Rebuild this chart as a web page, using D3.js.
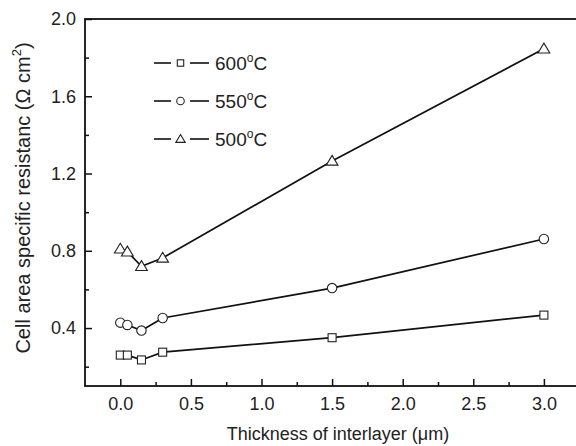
<!DOCTYPE html>
<html lang="en">
<head>
<meta charset="UTF-8">
<title>Cell area specific resistance</title>
<style>
  body { margin: 0; background: #fff; }
  text { font-family: "Liberation Sans", Arial, sans-serif; fill: #222; }
</style>
</head>
<body>
<script src="https://d3js.org/d3.v7.min.js"></script>
<script>
// data
var thickness = [0, 0.05, 0.15, 0.3, 1.5, 3.0];
var r600 = [0.26, 0.26, 0.235, 0.275, 0.35, 0.467];
var r550 = [0.428, 0.416, 0.387, 0.452, 0.607, 0.861];
var r500 = [0.81, 0.795, 0.72, 0.763, 1.265, 1.846];
var seriesNames = ['600', '550', '500'];
var xTicks = [0, 0.5, 1.0, 1.5, 2.0, 2.5, 3.0];
var xMinorTicks = [0.25, 0.75, 1.25, 1.75, 2.25, 2.75];
var yTicks = [0.4, 0.8, 1.2, 1.6, 2.0];
var yMinorTicks = [0.2, 0.6, 1.0, 1.4, 1.8];

var W = 576, H = 446;
var margin = {top: 19, left: 85, bottom: 60};

var xScale = d3.scaleLinear().domain([-0.25, 3.25]).range([margin.left, margin.left + 3.5 * 141.2]);
var yScale = d3.scaleLinear().domain([0.1, 2.0]).range([H - margin.bottom, margin.top]);

var svg = d3.select('body').append('svg')
    .attr('width', W)
    .attr('height', H);

var series = [
    {name: seriesNames[0], vals: r600, shape: 'square'},
    {name: seriesNames[1], vals: r550, shape: 'circle'},
    {name: seriesNames[2], vals: r500, shape: 'triangle'}
];

function marker(g, shape, x, y, s) {
    if (shape == 'square') {
        g.append('rect').attr('x', x - 4 * s).attr('y', y - 4 * s)
            .attr('width', 8 * s).attr('height', 8 * s);
    } else if (shape == 'circle') {
        g.append('circle').attr('cx', x).attr('cy', y).attr('r', 4.7 * s);
    } else {
        var h = 5.6 * s;
        g.append('path').attr('d', `M${x},${y - h}L${x + h * 1.05},${y + h * 0.75}L${x - h * 1.05},${y + h * 0.75}Z`);
    }
}

// axes
svg.append('g')
    .attr('transform', `translate(0, ${yScale(0.1)})`)
    .call(d3.axisBottom(xScale).tickValues(xTicks).tickSizeInner(-7).tickSizeOuter(0).tickPadding(11).tickFormat(d3.format('.1f')));
svg.append('g')
    .attr('transform', `translate(0, ${yScale(0.1)})`)
    .call(d3.axisBottom(xScale).tickValues(xMinorTicks).tickSizeInner(-4).tickSizeOuter(0).tickFormat(''));

svg.append('g')
    .attr('transform', `translate(${xScale(-0.25)}, 0)`)
    .call(d3.axisLeft(yScale).tickValues(yTicks).tickSizeInner(-7).tickSizeOuter(0).tickPadding(9).tickFormat(d3.format('.1f')));
svg.append('g')
    .attr('transform', `translate(${xScale(-0.25)}, 0)`)
    .call(d3.axisLeft(yScale).tickValues(yMinorTicks).tickSizeInner(-4).tickSizeOuter(0).tickFormat(''));

svg.selectAll('.domain').remove();
svg.selectAll('.tick line').attr('stroke', '#111').attr('stroke-width', 1.5);
svg.selectAll('.tick text').style('font-size', '18px').attr('fill', '#333');

// frame
svg.append('rect')
    .attr('x', xScale(-0.25))
    .attr('y', yScale(2.0))
    .attr('width', xScale(3.25) - xScale(-0.25))
    .attr('height', yScale(0.1) - yScale(2.0))
    .attr('fill', 'none')
    .attr('stroke', '#111')
    .attr('stroke-width', 1.8);

// lines and markers
var line = d3.line().x((d, i) => xScale(thickness[i])).y(d => yScale(d));

series.forEach(function(s) {
    svg.append('path')
        .datum(s.vals)
        .attr('d', line)
        .attr('fill', 'none')
        .attr('stroke', '#111')
        .attr('stroke-width', 1.7);
    var g = svg.append('g').attr('fill', '#fff').attr('stroke', '#222').attr('stroke-width', 1.1);
    s.vals.forEach(function(v, i) {
        marker(g, s.shape, xScale(thickness[i]), yScale(v), 1);
    });
});

// legend
var legY = [63, 101, 139];
series.forEach(function(s, i) {
    var lg = svg.append('g').attr('transform', `translate(154, ${legY[i]})`);
    lg.append('line').attr('x1', 0).attr('x2', 17).attr('y1', 0).attr('y2', 0).attr('stroke', '#111').attr('stroke-width', 1.6);
    lg.append('line').attr('x1', 36).attr('x2', 55).attr('y1', 0).attr('y2', 0).attr('stroke', '#111').attr('stroke-width', 1.6);
    var mg = lg.append('g').attr('fill', '#fff').attr('stroke', '#222').attr('stroke-width', 1.1);
    marker(mg, s.shape, 26.5, 0, 0.8);
    var t = lg.append('text').attr('x', 61).attr('y', 7).style('font-size', '19px');
    t.append('tspan').text(s.name);
    t.append('tspan').attr('dy', -8).style('font-size', '12px').text('o');
    t.append('tspan').attr('dy', 8).text('C');
});

// axis titles
var xt = svg.append('text')
    .attr('text-anchor', 'middle')
    .attr('x', 338)
    .attr('y', 440)
    .style('font-size', '18px');
xt.append('tspan').text('Thickness of interlayer (');
xt.append('tspan').text('\u03bc');
xt.append('tspan').text('m)');

var yt = svg.append('text')
    .attr('text-anchor', 'middle')
    .attr('transform', `translate(30, 198) rotate(-90)`)
    .style('font-size', '20px');
yt.append('tspan').text('Cell area specific resistanc (\u03a9 cm');
yt.append('tspan').attr('dy', -9).style('font-size', '13px').text('2');
yt.append('tspan').attr('dy', 9).text(')');
</script>
</body>
</html>
